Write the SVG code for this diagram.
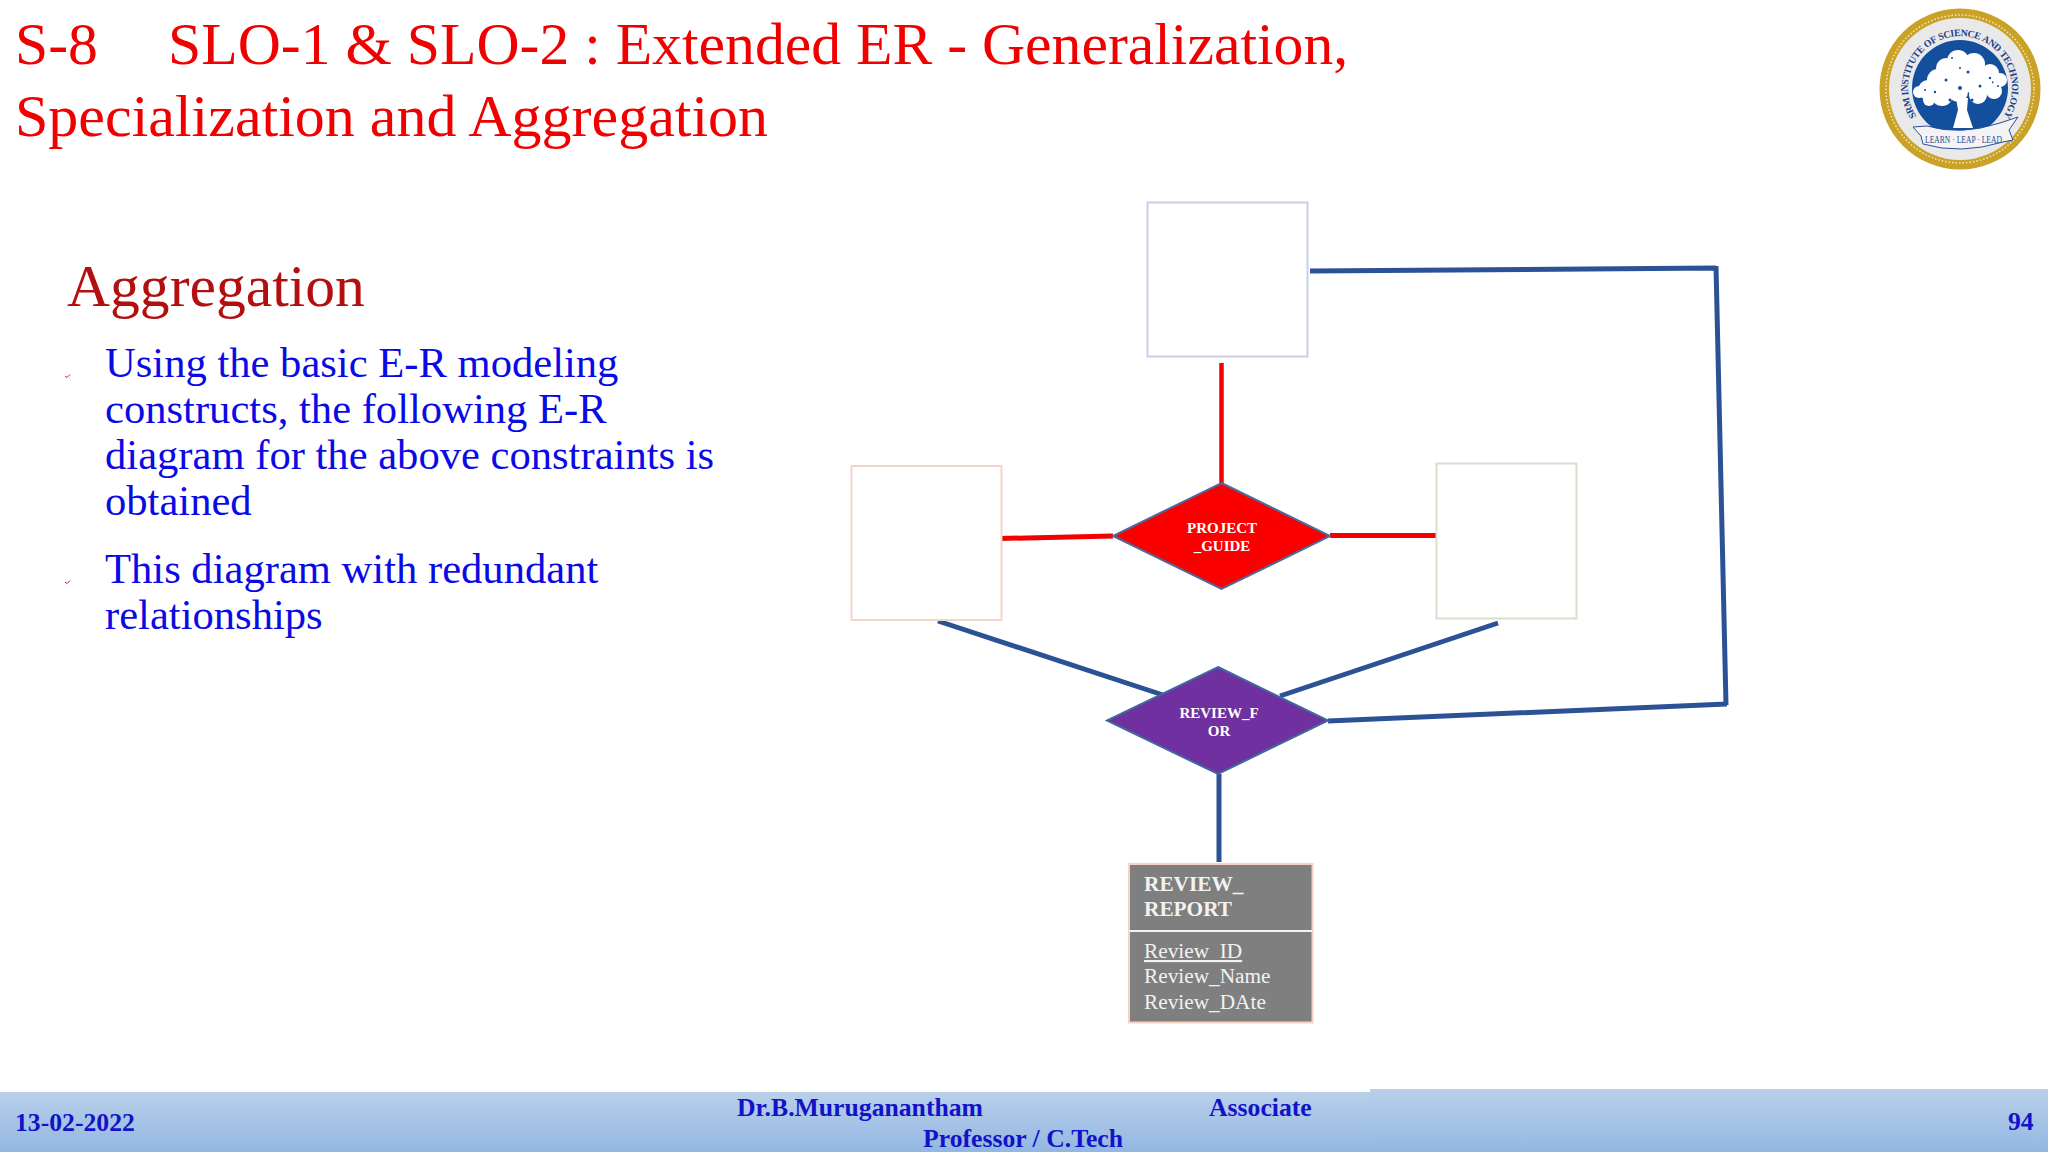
<svg xmlns="http://www.w3.org/2000/svg" width="2048" height="1152" viewBox="0 0 2048 1152">
<style>
text{font-family:"Liberation Serif","Times New Roman",serif}
.title{font-size:59.7px;fill:#f00000}
.body{font-size:42.6px;fill:#0a0ae6}
.foot{font-size:25.7px;font-weight:bold;fill:#1212c8}
.red{stroke:#f50000;fill:none}
.blue{stroke:#2c5296;stroke-width:5;fill:none}
.dlabel{font-size:15px;font-weight:bold;fill:#fff;text-anchor:middle}
.box{fill:#fff;stroke-width:2}
.rep{font-size:21.3px;fill:#f2f2f2}
.leaf{fill:#fff}
.speck{fill:#144f9e}
</style>
<defs>
<linearGradient id="fg" x1="0" y1="0" x2="0" y2="1"><stop offset="0" stop-color="#b9d0ea"/><stop offset="1" stop-color="#93b7e2"/></linearGradient>
</defs>
<rect width="2048" height="1152" fill="#fff"/>
<g id="heading">
<text class="title" x="15" y="64">S-8</text>
<text class="title" x="168" y="64">SLO-1 &amp; SLO-2 : Extended ER - Generalization,</text>
<text class="title" x="15" y="136" font-size="60" style="font-size:60px">Specialization and Aggregation</text>
</g>
<g id="logo">
<circle cx="1960" cy="89" r="80.500" fill="#c9a227"/>
<circle cx="1960" cy="89" r="74" fill="none" stroke="#f6e9b8" stroke-width="1.500" stroke-dasharray="1.500 2"/>
<circle cx="1960" cy="89" r="71" fill="#e9e9ea"/>
<circle cx="1960" cy="88" r="48" fill="#144f9e"/>
<text font-size="9.800" font-weight="bold" fill="#1d3f86"
 x="1916.4 1913.8 1911.1 1908.9 1908.5 1908.1 1908.1 1908.7 1910 1911.1 1913.5 1916.8 1920.6 1924.9 1926.6 1932.4 1937.3 1939.4 1944.2 1950.7 1954.2 1960.4 1967.1 1973.5 1979.4 1981.5 1987.4 1992.8 1997.6 1999.3 2003 2006.1 2008.8 2010.8 2011.8 2011.9 2011.2 2009.6 2006.9"
 y="116.3 111.9 105.8 97.4 95.1 91.5 84.9 79.8 73.8 70.4 64.7 59 54.1 49.7 48.2 44 41.2 40.3 38.4 36.8 36.3 36 36.5 37.8 39.7 40.6 43.8 47.6 52.1 53.9 58.8 64 70.1 77 83.6 90.7 96.8 103.8 110.5"
 rotate="-120 -113.7 -105 -99 -96 -90 -84 -77.5 -72 -67 -60 -53 -46 -41 -36 -29 -25 -20.5 -14 -8.3 -3 4 11.5 18.5 23 28 35.5 42.8 47.6 52.4 59 66 74 81.5 89 96.4 103.7 111.7 119.3">SRM INSTITUTE OF SCIENCE AND TECHNOLOGY</text>
<path class="leaf" d="M1953 128L1958 110L1956 98L1968 98L1967 110L1973 128Z"/>
<g class="leaf">
<circle cx="1958" cy="61" r="11"/><circle cx="1974" cy="64" r="11"/><circle cx="1946" cy="68" r="10"/><circle cx="1990" cy="73" r="9"/>
<circle cx="2000" cy="80" r="7"/><circle cx="1960" cy="78" r="15"/><circle cx="1978" cy="82" r="14"/><circle cx="1938" cy="80" r="11"/>
<circle cx="1928" cy="90" r="10"/><circle cx="1919" cy="92" r="6"/><circle cx="1942" cy="95" r="11"/><circle cx="1958" cy="92" r="10"/>
<circle cx="1978" cy="95" r="9"/><circle cx="1994" cy="91" r="8"/><circle cx="1929" cy="100" r="6"/>
</g>
<g class="speck">
<circle cx="1952" cy="58" r="1"/><circle cx="1968" cy="72" r="1.500"/><circle cx="1946" cy="80" r="1.500"/><circle cx="1980" cy="86" r="1.500"/>
<circle cx="1935" cy="92" r="1.200"/><circle cx="1960" cy="88" r="2"/><circle cx="1990" cy="78" r="1.200"/><circle cx="1972" cy="100" r="1.500"/><circle cx="1950" cy="100" r="1.500"/>
<circle cx="1925" cy="90" r="1"/><circle cx="1998" cy="86" r="1"/><circle cx="1960" cy="68" r="1"/>
</g>
<path d="M1913 127L1927 126Q1960 136 2000 123L2018 117L2009 130L2013 140L2003 142Q1960 155 1923 144L1921 136Z" fill="#f4f4f6" stroke="#2a4f92" stroke-width="1"/>
<text x="1925" y="143" font-size="11" fill="#2a4f92" textLength="77" lengthAdjust="spacingAndGlyphs">LEARN · LEAP · LEAD</text>
</g>
<g id="aggregation-text">
<text x="67" y="306" font-size="59.600" fill="#b30f0f">Aggregation</text>
<path d="M65 376l2 1.500l3-3" fill="none" stroke="#c0202a" stroke-width="1"/>
<path d="M65 582l2 1.500l3-3" fill="none" stroke="#c0202a" stroke-width="1"/>
<text class="body" x="105" y="377">Using the basic E-R modeling</text>
<text class="body" x="105" y="423">constructs, the following E-R</text>
<text class="body" x="105" y="469">diagram for the above constraints is</text>
<text class="body" x="105" y="515">obtained</text>
<text class="body" x="105" y="583">This diagram with redundant</text>
<text class="body" x="105" y="629">relationships</text>
</g>
<g id="connectors">
<path class="red" stroke-width="4.500" d="M1221.500 363V484"/>
<path class="red" stroke-width="5" d="M1001 538.500L1113 536M1330 535.500H1436"/>
<path class="blue" d="M938 621L1163 695M1498 623L1280 696M1310 271L1716 268M1716 266L1726 705M1328 721L1727 704M1219 774V862"/>
</g>
<g id="top-entity"><rect class="box" x="1147.500" y="202.500" width="160" height="154" stroke="#c9cde8"/></g>
<g id="left-entity"><rect class="box" x="851.500" y="466" width="150" height="154" stroke="#f6d5c9"/></g>
<g id="right-entity"><rect class="box" x="1436.500" y="463.500" width="140" height="155" stroke="#d6e0cf"/></g>
<g id="project-guide">
<path d="M1221.500 483L1330 536L1221.500 589L1113 536Z" fill="#fb0000" stroke="#4c6a9c" stroke-width="2"/>
<text class="dlabel" x="1222" y="533">PROJECT</text>
<text class="dlabel" x="1222" y="551">_GUIDE</text>
</g>
<g id="review-for">
<path d="M1218 667L1328 720.500L1218 774L1107 720.500Z" fill="#7030a0" stroke="#3f689f" stroke-width="2"/>
<text class="dlabel" x="1219" y="718">REVIEW_F</text>
<text class="dlabel" x="1219" y="736">OR</text>
</g>
<g id="review-report">
<rect x="1129" y="864" width="183.500" height="158.500" fill="#7f7f7f" stroke="#f5d2c2" stroke-width="2"/>
<path d="M1129 931H1312" stroke="#f2f2f2" stroke-width="2"/>
<text class="rep" font-weight="bold" x="1144" y="891">REVIEW_</text>
<text class="rep" font-weight="bold" x="1144" y="916">REPORT</text>
<text class="rep" x="1144" y="958" text-decoration="underline">Review_ID</text>
<text class="rep" x="1144" y="983">Review_Name</text>
<text class="rep" x="1144" y="1009">Review_DAte</text>
</g>
<g id="footer">
<rect x="0" y="1092" width="1370" height="60" fill="url(#fg)"/>
<rect x="1370" y="1089" width="678" height="63" fill="url(#fg)"/>
<text class="foot" x="15" y="1131">13-02-2022</text>
<text class="foot" x="737" y="1116">Dr.B.Muruganantham</text>
<text class="foot" x="1209" y="1116">Associate</text>
<text class="foot" x="923" y="1147">Professor / C.Tech</text>
<text class="foot" x="2008" y="1130">94</text>
</g>
</svg>
